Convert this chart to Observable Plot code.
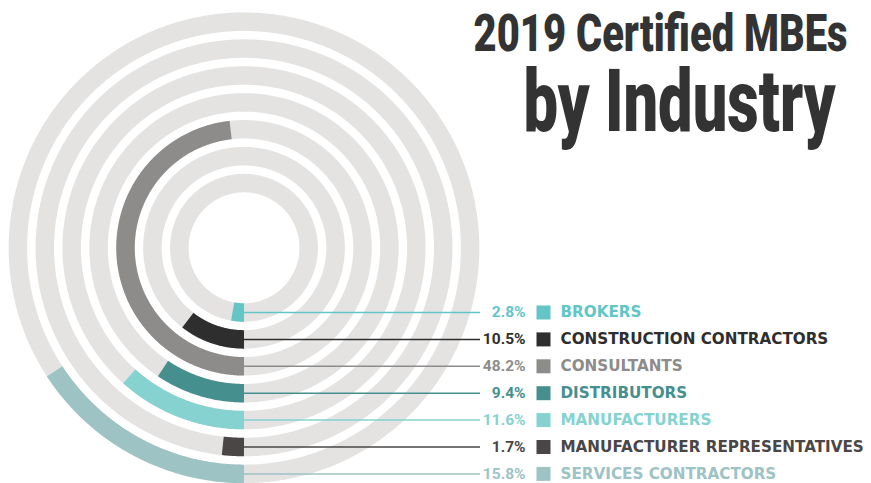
<!DOCTYPE html>
<html>
<head>
<meta charset="utf-8">
<script src="https://cdn.jsdelivr.net/npm/d3@7"></script>
<script src="https://cdn.jsdelivr.net/npm/@observablehq/plot@0.6"></script>
<style>
  html, body { margin: 0; padding: 0; background: #fff; }
  #chart svg { display: block; }
</style>
</head>
<body>
<div id="chart"></div>
<script>
// ---- data ----
const categories = ["BROKERS", "CONSTRUCTION CONTRACTORS", "CONSULTANTS", "DISTRIBUTORS", "MANUFACTURERS", "MANUFACTURER REPRESENTATIVES", "SERVICES CONTRACTORS"];
const values = [2.8, 10.5, 48.2, 9.4, 11.6, 1.7, 15.8];
const colors = ["#62c6c6", "#2e2e2e", "#8d8c8b", "#468f8f", "#85d2d0", "#4a4646", "#9dc3c4"];
const titleLines = ["2019 Certified MBEs", "by Industry"];

// ---- layout ----
const W = 871, H = 483;
const cx = 243.5, cy = 247.3;           // ring centre in px
const r0 = 64.7, step = 26.9, band = 18.5;
const ringColor = "#e4e3e2";

const rows = categories.map((c, i) => ({
  cat: c, value: values[i], color: colors[i], r: r0 + i * step,
  pct: values[i].toFixed(1) + "%"
}));

function arcPoints(r, frac, key, color) {
  const n = Math.max(2, Math.ceil(frac * 720));
  const pts = [];
  for (let k = 0; k <= n; k++) {
    const t = frac * 2 * Math.PI * k / n;
    pts.push({x: -r * Math.sin(t), y: -r * Math.cos(t), key, color});
  }
  return pts;
}

const bgPts = rows.flatMap(d => arcPoints(d.r, 1.01, d.cat, ringColor));
const arcPts = rows.flatMap(d => arcPoints(d.r, d.value / 100, d.cat, d.color));

const xPct = 281.5, xSq = 299.5, xName = 316.5, xLeadEnd = 236.5;

const chart = Plot.plot({
  width: W, height: H,
  margin: 0,
  x: {domain: [-cx, W - cx], range: [0, W], axis: null},
  y: {domain: [cy - H, cy], range: [H, 0], axis: null},
  color: {type: "identity"},
  marks: [
    Plot.line(bgPts, {x: "x", y: "y", z: "key", stroke: ringColor, strokeWidth: band, strokeLinecap: "butt", strokeLinejoin: "round"}),
    Plot.line(arcPts, {x: "x", y: "y", z: "key", stroke: "color", strokeWidth: band, strokeLinecap: "butt", strokeLinejoin: "round"}),
    Plot.ruleY(rows, {y: d => -d.r, x1: 0, x2: xLeadEnd, stroke: "color", strokeWidth: 1.5}),
    Plot.text(rows, {x: xPct, y: d => -d.r, text: "pct", fill: "color", textAnchor: "end", fontFamily: "Roboto", fontWeight: 700, fontSize: 15.5}),
    Plot.dot(rows, {x: xSq, y: d => -d.r, symbol: "square", r: 7.9, fill: "color", stroke: null}),
    Plot.text(rows, {x: xName, y: d => -d.r, text: "cat", fill: "color", textAnchor: "start", fontFamily: "DejaVu Sans", fontWeight: 700, fontSize: 15.2}),
    Plot.text([titleLines[0]], {x: 603.5, y: cy - 50, text: d => d, textAnchor: "end", lineAnchor: "bottom", fontFamily: "Roboto", fontWeight: 900, fontSize: 51, fill: "#333333"}),
    Plot.text([titleLines[1]], {x: 591.5, y: cy - 130, text: d => d, textAnchor: "end", lineAnchor: "bottom", fontFamily: "Roboto", fontWeight: 900, fontSize: 87, fill: "#333333"})
  ]
});

document.getElementById("chart").appendChild(chart);

// condense the title lines horizontally (condensed display face look)
const targets = {[titleLines[0]]: 374, [titleLines[1]]: 312};
chart.querySelectorAll("text").forEach(t => {
  const target = targets[t.textContent];
  if (!target) return;
  const w = t.getComputedTextLength();
  const s = target / w;
  let tr = t.getAttribute("transform") || "";
  const xa = t.getAttribute("x"), ya = t.getAttribute("y");
  if (xa !== null || ya !== null) {
    tr += ` translate(${+xa || 0},${+ya || 0})`;
    t.removeAttribute("x"); t.removeAttribute("y");
  }
  t.setAttribute("transform", `${tr} scale(${s},1)`.trim());
});
</script>
</body>
</html>
